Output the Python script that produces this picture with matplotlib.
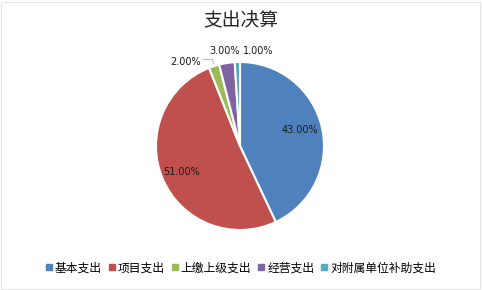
import numpy as np
import matplotlib
matplotlib.use("Agg")
import matplotlib.pyplot as plt
from matplotlib.lines import Line2D
from matplotlib.patches import Rectangle

plt.rcParams["font.family"] = ["Noto Sans CJK SC", "DejaVu Sans"]

title = "支出决算"
categories = ["基本支出", "项目支出", "上缴上级支出", "经营支出", "对附属单位补助支出"]
shares = [43.0, 51.0, 2.0, 3.0, 1.0]
colors = ["#4F81BD", "#C0504D", "#9BBB59", "#8064A2", "#4BACC6"]

# label placement (radius factor, angle shift in degrees) per slice
label_r = [0.74, 0.76, 1.19, 1.14, 1.15]
label_shift = [2.0, 0.5, 15.0, 0.0, -12.5]

W, H = 482, 290
fig = plt.figure(figsize=(W / 100, H / 100), dpi=100)
ax = fig.add_axes([0, 0, 1, 1])

cx, cy, rad = 240, H - 146, 84
wedges, _ = ax.pie(shares, colors=colors, startangle=90, counterclock=False,
                   center=(cx, cy), radius=rad, frame=True,
                   wedgeprops=dict(edgecolor="white", linewidth=1.5))
ax.set_xlim(0, W)
ax.set_ylim(0, H)
ax.set_aspect("equal")
ax.axis("off")

for w, s, rf, sh in zip(wedges, shares, label_r, label_shift):
    mid = np.deg2rad((w.theta1 + w.theta2) / 2 + sh)
    x = cx + rad * rf * np.cos(mid)
    y = cy + rad * rf * np.sin(mid)
    ax.text(x, y, f"{s:.2f}%", ha="center", va="center", fontsize=7,
            family="DejaVu Sans", color="#1a1a1a")

# leader line for the 2% slice
g = wedges[2]
gm = np.deg2rad((g.theta1 + g.theta2) / 2)
ex, ey = cx + rad * 1.02 * np.cos(gm), cy + rad * 1.02 * np.sin(gm)
ax.plot([ex - 10, ex - 1, ex], [ey + 5, ey + 5, ey + 1], color="#BFBFBF", lw=0.8)

ax.text(W / 2, H - 21, title, ha="center", va="center", fontsize=13.5,
        color="#262626")

handles = [Line2D([0], [0], marker="s", linestyle="none", markersize=5,
                  markerfacecolor=c, markeredgecolor=c) for c in colors]
ax.legend(handles, categories, loc="center", bbox_to_anchor=(0.5, 1 - 268 / H),
          ncol=5, frameon=False, fontsize=8.5, handlelength=0.5,
          handletextpad=0.25, columnspacing=0.6, borderpad=0)

ax.add_patch(Rectangle((1, 1), W - 3, H - 3, fill=False, edgecolor="#E6E6E6",
                       lw=0.8))

fig.savefig("out.png", dpi=100)
